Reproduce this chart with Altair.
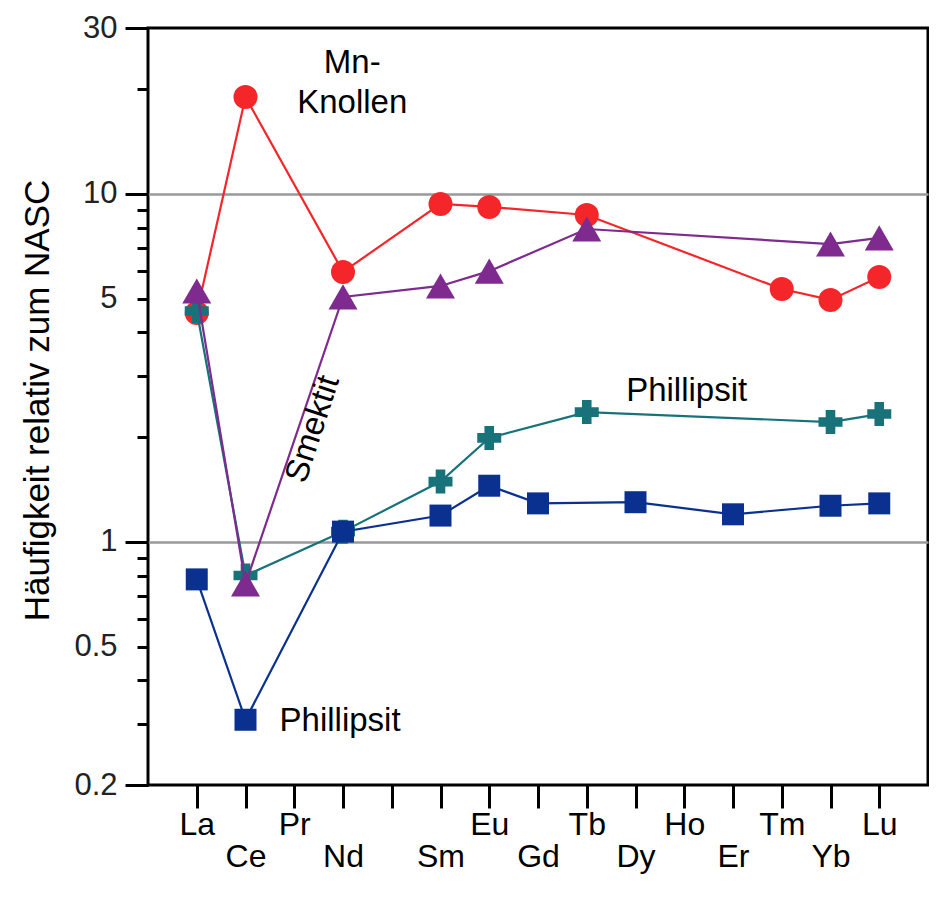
import json
import altair as alt
import pandas as pd

# ---------------- data ----------------
elements = ["La", "Ce", "Pr", "Nd", "Pm", "Sm", "Eu", "Gd", "Tb", "Dy", "Ho", "Er", "Tm", "Yb", "Lu"]
tick_labels = ["La", "Ce", "Pr", "Nd", "", "Sm", "Eu", "Gd", "Tb", "Dy", "Ho", "Er", "Tm", "Yb", "Lu"]

mn_elements = ["La", "Ce", "Nd", "Sm", "Eu", "Tb", "Tm", "Yb", "Lu"]
mn_values = [4.55, 19.0, 5.97, 9.36, 9.18, 8.70, 5.33, 4.96, 5.77]

smektit_elements = ["La", "Ce", "Nd", "Sm", "Eu", "Tb", "Yb", "Lu"]
smektit_values = [5.26, 0.757, 5.06, 5.44, 6.0, 7.93, 7.18, 7.48]

phil_cross_elements = ["La", "Ce", "Nd", "Sm", "Eu", "Tb", "Yb", "Lu"]
phil_cross_values = [4.61, 0.80, 1.07, 1.49, 1.99, 2.36, 2.21, 2.33]

phil_square_elements = ["La", "Ce", "Nd", "Sm", "Eu", "Gd", "Dy", "Er", "Yb", "Lu"]
phil_square_values = [0.78, 0.308, 1.07, 1.19, 1.45, 1.29, 1.30, 1.20, 1.27, 1.29]

y_label_values = [0.2, 0.5, 1, 5, 10, 30]
y_major_ticks = [0.2, 1, 10, 30]
y_all_ticks = [0.2, 0.3, 0.4, 0.5, 0.6, 0.7, 0.8, 0.9, 1, 2, 3, 4, 5, 6, 7, 8, 9, 10, 20, 30]
y_grid_values = [1, 10]

ann_texts = ["Mn-\nKnollen", "Smektit", "Phillipsit", "Phillipsit"]
ann_idx = [3.19, 2.38, 10.05, 2.94]
ann_vals = [23.8, 2.11, 2.72, 0.306]
ann_angles = [0, 288, 0, 0]

FONT = "Liberation Sans"

x_scale = alt.Scale(domain=[-1, 15], nice=False, zero=False)
y_scale = alt.Scale(type="log", domain=[0.2, 30], nice=False)

layers = []

# ---------------- axis carriers ----------------
carrier = pd.DataFrame({"idx": list(range(len(elements))), "value": [1.0] * len(elements)})
label_expr = json.dumps(tick_labels) + "[datum.value]"

# 1: x tick marks + y short ticks
layers.append(
    alt.Chart(carrier).mark_point(opacity=0).encode(
        x=alt.X("idx:Q", scale=x_scale, axis=alt.Axis(
            orient="bottom", values=list(range(len(elements))), tickSize=23, tickWidth=3,
            tickColor="black", labels=False, domain=False, grid=False, title=None)),
        y=alt.Y("value:Q", scale=y_scale, axis=alt.Axis(
            orient="left", values=y_all_ticks, tickSize=11, tickWidth=3, tickColor="black",
            labels=False, domain=False, grid=False, title=None)),
    )
)
# 2: upper x labels + y long ticks
layers.append(
    alt.Chart(carrier).mark_point(opacity=0).encode(
        x=alt.X("idx:Q", scale=x_scale, axis=alt.Axis(
            orient="bottom", values=list(range(0, 15, 2)), ticks=False, domain=False, grid=False,
            labelExpr=label_expr, labelPadding=39, labelBaseline="middle", labelFontSize=32,
            labelFont=FONT, labelColor="black", labelFlush=False, labelOverlap=False, title=None)),
        y=alt.Y("value:Q", scale=y_scale, axis=alt.Axis(
            orient="left", values=y_major_ticks, tickSize=23, tickWidth=3, tickColor="black",
            labels=False, domain=False, grid=False, title=None)),
    )
)
# 3: lower x labels + y labels and title
layers.append(
    alt.Chart(carrier).mark_point(opacity=0).encode(
        x=alt.X("idx:Q", scale=x_scale, axis=alt.Axis(
            orient="bottom", values=list(range(1, 15, 2)), ticks=False, domain=False, grid=False,
            labelExpr=label_expr, labelPadding=71, labelBaseline="middle", labelFontSize=32,
            labelFont=FONT, labelColor="black", labelFlush=False, labelOverlap=False, title=None)),
        y=alt.Y("value:Q", scale=y_scale, axis=alt.Axis(
            orient="left", values=y_label_values, ticks=False, domain=False, grid=False,
            labelExpr="format(datum.value, '~g')", labelPadding=31, labelFontSize=31,
            labelFont=FONT, labelColor="#222222", labelOverlap=False, labelFlush=False,
            title="Häufigkeit relativ zum NASC", titleFont=FONT, titleFontSize=35,
            titleFontWeight="normal", titleColor="black", titleX=-111, titleY=372,
            titleBaseline="middle", titleAngle=270)),
    )
)
# 4: y grid
layers.append(
    alt.Chart(carrier).mark_point(opacity=0).encode(
        x=alt.X("idx:Q", scale=x_scale, axis=None),
        y=alt.Y("value:Q", scale=y_scale, axis=alt.Axis(
            orient="left", values=y_grid_values, ticks=False, labels=False, domain=False,
            grid=True, gridColor="#999999", gridWidth=2.5, title=None)),
    )
)

# ---------------- series ----------------
series = [
    (mn_elements, mn_values, "#f4262a", "circle", 576),
    (phil_cross_elements, phil_cross_values, "#17727a", "cross", 576),
    (smektit_elements, smektit_values, "#7e2a8e", "triangle-up", 841),
    (phil_square_elements, phil_square_values, "#0b3190", "square", 484),
]
for els, vals, color, shape, size in series:
    d = pd.DataFrame({"idx": [elements.index(e) for e in els], "element": els, "value": vals})
    base = alt.Chart(d).encode(
        x=alt.X("idx:Q", scale=x_scale, axis=None),
        y=alt.Y("value:Q", scale=y_scale, axis=None),
    )
    layers.append(base.mark_line(color=color, strokeWidth=2.2))
    layers.append(base.mark_point(shape=shape, size=size, filled=True, color=color, opacity=1))

# ---------------- annotations ----------------
for t, i, v, a in zip(ann_texts, ann_idx, ann_vals, ann_angles):
    d = pd.DataFrame({"idx": [i], "value": [v], "label": [t]})
    layers.append(
        alt.Chart(d).mark_text(font=FONT, fontSize=33, color="black", align="center",
                               baseline="middle", angle=a, lineBreak="\n", lineHeight=40).encode(
            x=alt.X("idx:Q", scale=x_scale, axis=None),
            y=alt.Y("value:Q", scale=y_scale, axis=None),
            text="label:N",
        )
    )

chart = alt.layer(*layers).resolve_axis(x="independent", y="independent").properties(
    width=780,
    height=757,
    autosize=alt.AutoSizeParams(type="none"),
    padding={"left": 140, "top": 20, "right": 1, "bottom": 100},
).configure_view(stroke="black", strokeWidth=3)

chart.save("out.html", embed_options={"renderer": "svg", "actions": False})
